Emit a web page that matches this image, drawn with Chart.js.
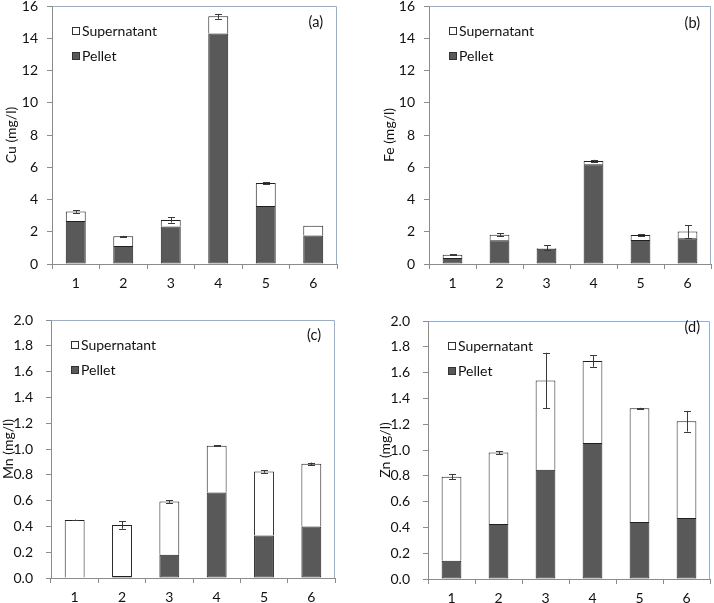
<!DOCTYPE html>
<html>
<head>
<meta charset="utf-8">
<script src="https://cdn.jsdelivr.net/npm/chart.js@4.4.1/dist/chart.umd.min.js"></script>
<style>
    html, body { margin: 0; padding: 0; background: #fff; }
    #wrap { position: relative; width: 714px; height: 603px; }
    canvas { position: absolute; }
</style>
</head>
<body>
<div id="wrap">
    <canvas id="cu" width="357" height="300" style="left:0;top:0"></canvas>
    <canvas id="fe" width="357" height="300" style="left:357px;top:0"></canvas>
    <canvas id="mn" width="357" height="303" style="left:0;top:300px"></canvas>
    <canvas id="zn" width="357" height="303" style="left:357px;top:300px"></canvas>
</div>
<script>
// Sample numbers on the x axis
const samples = ['1', '2', '3', '4', '5', '6'];

// (a) Cu, mg/l
const cuPellet = [2.67, 1.12, 2.32, 14.30, 3.60, 1.77];
const cuSupernatant = [0.58, 0.60, 0.41, 1.06, 1.43, 0.60];
const cuError = [0.07, 0.03, 0.16, 0.15, 0.06, 0];

// (b) Fe, mg/l
const fePellet = [0.37, 1.47, 0.95, 6.18, 1.49, 1.59];
const feSupernatant = [0.21, 0.35, 0.05, 0.21, 0.31, 0.42];
const feError = [0.04, 0.10, 0.15, 0.07, 0.04, 0.39];

// (c) Mn, mg/l
const mnPellet = [0, 0.015, 0.18, 0.663, 0.33, 0.40];
const mnSupernatant = [0.45, 0.395, 0.413, 0.362, 0.496, 0.485];
const mnError = [0.003, 0.028, 0.01, 0.005, 0.01, 0.01];

// (d) Zn, mg/l
const znPellet = [0.142, 0.426, 0.846, 1.055, 0.441, 0.472];
const znSupernatant = [0.650, 0.554, 0.692, 0.635, 0.883, 0.751];
const znError = [0.02, 0.01, 0.216, 0.045, 0.003, 0.08];

const FONT = 'Lato, "DejaVu Sans", sans-serif';
const AXIS_GREY = '#8c8c8c';
const FRAME_BLUE = '#8fb0dc';
const TEXT = '#111';

// light blue top and right edges of the plot area
const framePlugin = {
    id: 'frame',
    afterDraw(chart) {
        const { ctx, chartArea: a } = chart;
        const l = Math.round(a.left) + 0.5, r = Math.round(a.right) - 0.5;
        const t = Math.round(a.top) + 0.5, b = Math.round(a.bottom);
        ctx.save();
        ctx.strokeStyle = FRAME_BLUE;
        ctx.lineWidth = 1;
        ctx.beginPath();
        ctx.moveTo(l, t);
        ctx.lineTo(r, t);
        ctx.lineTo(r, b);
        ctx.stroke();
        ctx.restore();
    }
};

// error bars on top of each stacked total
const errorBarPlugin = {
    id: 'errorBars',
    afterDatasetsDraw(chart, args, opts) {
        const errors = opts.errors;
        if (!errors) return;
        const { ctx } = chart;
        const y = chart.scales.y;
        const top = chart.getDatasetMeta(chart.data.datasets.length - 1);
        ctx.save();
        ctx.strokeStyle = '#3a3a3a';
        ctx.lineWidth = 1;
        errors.forEach((err, i) => {
            if (!err) return;
            const total = chart.data.datasets.reduce((sum, ds) => sum + ds.data[i], 0);
            const x = Math.round(top.data[i].x) + 0.5;
            const y1 = y.getPixelForValue(total + err);
            const y2 = y.getPixelForValue(total - err);
            ctx.beginPath();
            ctx.moveTo(x, y1);
            ctx.lineTo(x, y2);
            ctx.moveTo(x - 3.5, Math.round(y1) + 0.5);
            ctx.lineTo(x + 3.5, Math.round(y1) + 0.5);
            ctx.moveTo(x - 3.5, Math.round(y2) + 0.5);
            ctx.lineTo(x + 3.5, Math.round(y2) + 0.5);
            ctx.stroke();
        });
        ctx.restore();
    }
};

// legend boxes and panel letter inside the plot area
const insideLabels = {
    id: 'insideLabels',
    afterDraw(chart, args, opts) {
        const { ctx, chartArea: a } = chart;
        ctx.save();
        ctx.font = '14px ' + FONT;
        ctx.textBaseline = 'middle';
        const entries = [
            { text: 'Supernatant', fill: '#ffffff', dy: 25 },
            { text: 'Pellet', fill: '#595959', dy: 50 }
        ];
        entries.forEach(e => {
            const bx = Math.round(a.left + 20) + 0.5;
            const by = Math.round(a.top + e.dy - 4) + 0.5;
            ctx.fillStyle = e.fill;
            ctx.fillRect(bx, by, 7, 7);
            ctx.strokeStyle = '#333';
            ctx.strokeRect(bx, by, 7, 7);
            ctx.fillStyle = TEXT;
            ctx.textAlign = 'left';
            ctx.fillText(e.text, a.left + 30, a.top + e.dy);
        });
        ctx.textAlign = 'right';
        ctx.font = '14.5px ' + FONT;
        ctx.fillText(opts.letter, a.right - opts.letterRight, a.top + opts.letterTop);
        ctx.restore();
    }
};

function makePanel(id, cfg) {
    const ctx = document.getElementById(id).getContext('2d');
    return new Chart(ctx, {
        type: 'bar',
        data: {
            labels: samples,
            datasets: [
                {
                    label: 'Pellet',
                    data: cfg.pellet,
                    backgroundColor: '#595959',
                    borderColor: '#202020',
                    borderWidth: 1,
                    borderSkipped: false
                },
                {
                    label: 'Supernatant',
                    data: cfg.supernatant,
                    backgroundColor: '#ffffff',
                    borderColor: '#202020',
                    borderWidth: 1,
                    borderSkipped: 'bottom'
                }
            ]
        },
        options: {
            responsive: false,
            animation: false,
            layout: { padding: { left: 0, right: cfg.padRight, top: cfg.padTop, bottom: 0 } },
            datasets: { bar: { categoryPercentage: 1, barPercentage: 0.42 } },
            plugins: {
                legend: { display: false },
                tooltip: { enabled: false },
                errorBars: { errors: cfg.errors },
                insideLabels: { letter: cfg.letter, letterRight: cfg.letterRight, letterTop: cfg.letterTop }
            },
            scales: {
                x: {
                    stacked: true,
                    afterFit: scale => {
                        scale.height = cfg.xHeight;
                        scale.paddingLeft = 0;
                        scale.paddingRight = 0;
                    },
                    grid: { display: true, offset: true, drawOnChartArea: false, drawTicks: true, tickLength: 5, color: AXIS_GREY },
                    border: { display: true, color: AXIS_GREY },
                    ticks: { color: TEXT, padding: 6, font: { family: FONT, size: 14 } }
                },
                y: {
                    stacked: true,
                    min: 0,
                    max: cfg.max,
                    afterFit: scale => {
                        scale.width = cfg.yWidth;
                        scale.paddingTop = 0;
                        scale.paddingBottom = 0;
                    },
                    grid: { display: true, drawOnChartArea: false, drawTicks: true, tickLength: 5, color: AXIS_GREY },
                    border: { display: true, color: AXIS_GREY },
                    ticks: {
                        stepSize: cfg.step,
                        padding: cfg.tickPad,
                        color: TEXT,
                        font: { family: FONT, size: 14 },
                        callback: v => cfg.decimals ? Number(v).toFixed(cfg.decimals) : String(Math.round(v))
                    },
                    title: {
                        display: true,
                        text: cfg.title,
                        color: TEXT,
                        font: { family: FONT, size: 14 },
                        padding: { top: cfg.titlePad, bottom: 0 }
                    }
                }
            }
        },
        plugins: [framePlugin, errorBarPlugin, insideLabels]
    });
}

makePanel('cu', {
    pellet: cuPellet, supernatant: cuSupernatant, errors: cuError,
    title: 'Cu (mg/l)', letter: '(a)', max: 16, step: 2, decimals: 0,
    yWidth: 52, xHeight: 36, padRight: 20, padTop: 6, tickPad: 9, titlePad: 3.5,
    letterRight: 14, letterTop: 16
});
makePanel('fe', {
    pellet: fePellet, supernatant: feSupernatant, errors: feError,
    title: 'Fe (mg/l)', letter: '(b)', max: 16, step: 2, decimals: 0,
    yWidth: 72, xHeight: 36, padRight: 3, padTop: 6, tickPad: 9, titlePad: 24,
    letterRight: 11, letterTop: 17
});
makePanel('mn', {
    pellet: mnPellet, supernatant: mnSupernatant, errors: mnError,
    title: 'Mn (mg/l)', letter: '(c)', max: 2, step: 0.2, decimals: 1,
    yWidth: 51, xHeight: 25, padRight: 22, padTop: 20, tickPad: 13, titlePad: 0,
    letterRight: 14, letterTop: 15
});
makePanel('zn', {
    pellet: znPellet, supernatant: znSupernatant, errors: znError,
    title: 'Zn (mg/l)', letter: '(d)', max: 2, step: 0.2, decimals: 1,
    yWidth: 71, xHeight: 24, padRight: 4, padTop: 21, tickPad: 13, titlePad: 20,
    letterRight: 10, letterTop: 6
});
</script>
</body>
</html>
